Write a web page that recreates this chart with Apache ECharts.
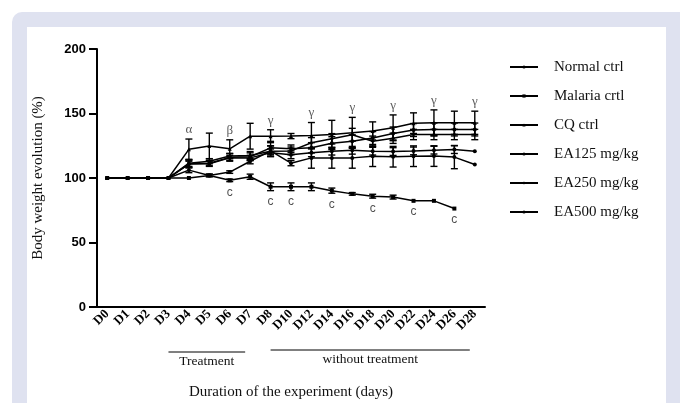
<!DOCTYPE html>
<html>
<head>
<meta charset="utf-8">
<script src="https://cdn.jsdelivr.net/npm/echarts@6.0.0/dist/echarts.min.js"></script>
<style>
  html, body { margin: 0; padding: 0; background: #fff; }
  #frame { position: absolute; left: 12px; top: 12px; width: 700px; height: 420px; background: #dfe2f0; border-radius: 10px; }
  #panel { position: absolute; left: 27px; top: 27px; width: 639px; height: 400px; background: #fff; }
  #main { position: absolute; left: 0; top: 0; width: 680px; height: 403px; }
</style>
</head>
<body>
<div id="frame"></div>
<div id="panel"></div>
<div id="main"></div>
<script>
    // jours de mesure
    const days = ['D0', 'D1', 'D2', 'D3', 'D4', 'D5', 'D6', 'D7', 'D8', 'D10', 'D12', 'D14', 'D16', 'D18', 'D20', 'D22', 'D24', 'D26', 'D28'];
    const yTicks = [0, 50, 100, 150, 200];

    // poids relatif (%) par groupe
    const normalCtrl = [100, 100, 100, 100, 111, 111, 115.6, 115.6, 119.5, 118, 119.5, 120.8, 121.5, 120.8, 120.5, 121, 121.6, 122, 120.8];
    const malariaCtrl = [100, 100, 100, 100, 100, 102, 98.2, 101, 93.2, 93.2, 93.2, 90.2, 87.7, 85.9, 85.2, 82.3, 82.3, 76.3, null];
    const cqCtrl = [100, 100, 100, 100, 122.2, 124.8, 122.6, 132.4, 132.4, 132.5, 133, 133.7, 135, 136.5, 138.9, 142.5, 142.8, 142.8, 142.8];
    const ea125 = [100, 100, 100, 100, 106.1, 102, 104.6, 113, 121, 111.5, 115.6, 115.6, 115.6, 116.9, 116.5, 116.9, 117, 116.2, 110.5];
    const ea250 = [100, 100, 100, 100, 111.5, 113, 117, 117.5, 120.8, 121, 127.3, 130.4, 133.5, 128.5, 130.8, 133.7, 133.7, 133.7, 133.7];
    const ea500 = [100, 100, 100, 100, 110.8, 111.5, 116, 116.5, 123.4, 122.6, 123.4, 127, 128.5, 131, 134.5, 137.2, 137.6, 137.6, 137.6];

    // SEM
    const normalErr = [0, 0, 0, 0, 2, 2, 2, 2, 3, 3, 3, 3, 3, 3, 3, 3, 3, 3, 0];
    const malariaErr = [0, 0, 0, 0, 0, 1, 1, 2, 3, 3, 3, 2, 1, 1.5, 1.5, 0, 0, 0, null];
    const cqErr = [0, 0, 0, 0, 8, 10, 7, 10, 5, 2, 10, 11, 12, 7, 10, 8, 10, 9, 9];
    const ea125Err = [0, 0, 0, 0, 2, 1, 1, 2, 4, 2, 8, 8, 8, 8, 8, 8, 8, 9, 0];
    const ea250Err = [0, 0, 0, 0, 3, 2, 2, 3, 4, 3, 4, 4, 5, 4, 4, 4, 4, 4, 4];
    const ea500Err = [0, 0, 0, 0, 3, 2, 3, 3, 5, 3, 4, 5, 5, 5, 5, 5, 5, 5, 5];

    // lettres de significativité
    const greekIdx = [4, 6, 8, 10, 12, 14, 16, 18];
    const greekTxt = ['α', 'β', 'γ', 'γ', 'γ', 'γ', 'γ', 'γ'];
    const cIdx = [6, 8, 9, 11, 13, 15, 17];

    const groups = [
        { name: 'Normal ctrl', data: normalCtrl, err: normalErr, symbol: 'circle' },
        { name: 'Malaria crtl', data: malariaCtrl, err: malariaErr, symbol: 'rect' },
        { name: 'CQ ctrl', data: cqCtrl, err: cqErr, symbol: 'triangle' },
        { name: 'EA125 mg/kg', data: ea125, err: ea125Err, symbol: 'circle' },
        { name: 'EA250 mg/kg', data: ea250, err: ea250Err, symbol: 'diamond' },
        { name: 'EA500 mg/kg', data: ea500, err: ea500Err, symbol: 'circle' }
    ];

    const serif = 'Liberation Serif';
    const sans = 'Liberation Sans';

    const errRender = (params, api) => {
        const e = api.value(2);
        if (!e) return;
        const i = api.value(0);
        const v = api.value(1);
        const top = api.coord([i, v + e]);
        const bot = api.coord([i, v - e]);
        const hw = 3.5;
        const st = { stroke: '#000', lineWidth: 1.4 };
        return {
            type: 'group',
            children: [
                { type: 'line', shape: { x1: top[0], y1: top[1], x2: bot[0], y2: bot[1] }, style: st },
                { type: 'line', shape: { x1: top[0] - hw, y1: top[1], x2: top[0] + hw, y2: top[1] }, style: st },
                { type: 'line', shape: { x1: bot[0] - hw, y1: bot[1], x2: bot[0] + hw, y2: bot[1] }, style: st }
            ]
        };
    };

    const series = [];
    groups.forEach(g => {
        series.push({
            name: g.name,
            type: 'line',
            data: g.data,
            symbol: g.symbol,
            symbolSize: 4,
            connectNulls: false,
            lineStyle: { color: '#000', width: 1.5 },
            itemStyle: { color: '#000' },
            z: 3
        });
        series.push({
            name: g.name + ' err',
            type: 'custom',
            renderItem: errRender,
            data: g.data.map((v, i) => [i, v, g.err[i]]),
            z: 2
        });
    });

    // position des lettres: au-dessus de la barre la plus haute
    const topAt = i => Math.max(...groups.map(g => (g.data[i] || 0) + (g.err[i] || 0)));
    series.push({
        name: 'greek',
        type: 'scatter',
        symbolSize: 0,
        data: greekIdx.map((i, k) => ({
            value: [i, topAt(i)],
            label: { formatter: greekTxt[k] }
        })),
        label: { show: true, position: 'top', distance: 3, fontFamily: serif, fontSize: 13, color: '#333' },
        silent: true
    });
    series.push({
        name: 'cmark',
        type: 'scatter',
        symbolSize: 0,
        data: cIdx.map(i => [i, malariaCtrl[i] - malariaErr[i]]),
        label: { show: true, position: 'bottom', distance: 5, formatter: 'c', fontFamily: sans, fontSize: 12, color: '#222' },
        silent: true
    });

    const chart = echarts.init(document.getElementById('main'));
    chart.setOption({
        backgroundColor: 'transparent',
        animation: false,
        grid: { left: 97, right: 195, top: 49, bottom: 96, outerBoundsMode: 'none', containLabel: false },
        legend: {
            data: groups.map(g => g.name),
            orient: 'vertical',
            left: 504,
            top: 54,
            itemWidth: 28,
            itemHeight: 4,
            itemGap: 13,
            textStyle: { fontFamily: serif, fontSize: 15, color: '#111', lineHeight: 16, padding: [0, 0, 0, 11] }
        },
        xAxis: {
            type: 'category',
            data: days,
            boundaryGap: true,
            name: 'Duration of the experiment (days)',
            nameLocation: 'middle',
            nameGap: 78,
            nameTextStyle: { fontFamily: serif, fontSize: 15, color: '#111' },
            axisLine: { lineStyle: { color: '#000', width: 2 } },
            axisTick: { alignWithLabel: true, length: 7, lineStyle: { width: 2, color: '#000' } },
            axisLabel: { rotate: 45, interval: 0, margin: 5, padding: [14, 0, 0, 0], fontFamily: serif, fontWeight: 'bold', fontSize: 13, color: '#000' }
        },
        yAxis: {
            type: 'value',
            min: yTicks[0],
            max: yTicks[yTicks.length - 1],
            interval: 50,
            name: 'Body weight evolution (%)',
            nameLocation: 'middle',
            nameGap: 51,
            nameTextStyle: { fontFamily: serif, fontSize: 15, color: '#111' },
            axisLine: { show: true, lineStyle: { color: '#000', width: 2 } },
            axisTick: { show: true, length: 8, lineStyle: { width: 2, color: '#000' } },
            axisLabel: { margin: 11, fontFamily: sans, fontWeight: 'bold', fontSize: 13, color: '#000' },
            splitLine: { show: false }
        },
        series: series
    });

    // périodes sous l'axe
    const px = d => chart.convertToPixel({ xAxisIndex: 0 }, d);
    const axisY = chart.convertToPixel({ yAxisIndex: 0 }, 0);
    const periods = [
        { from: 'D3', to: 'D7', text: 'Treatment', dy: 45 },
        { from: 'D8', to: 'D28', text: 'without treatment', dy: 43 }
    ];
    const graphic = [];
    periods.forEach(p => {
        const x1 = px(p.from), x2 = px(p.to) - 5;
        graphic.push({
            type: 'line',
            shape: { x1: x1, y1: axisY + p.dy, x2: x2, y2: axisY + p.dy },
            style: { stroke: '#000', lineWidth: 1 }
        });
        graphic.push({
            type: 'text',
            x: (x1 + x2) / 2,
            y: axisY + p.dy + 2,
            style: { text: p.text, fontFamily: serif, fontSize: 13.5, fill: '#111', align: 'center', verticalAlign: 'top' }
        });
    });
    chart.setOption({ graphic: graphic });
</script>
</body>
</html>
